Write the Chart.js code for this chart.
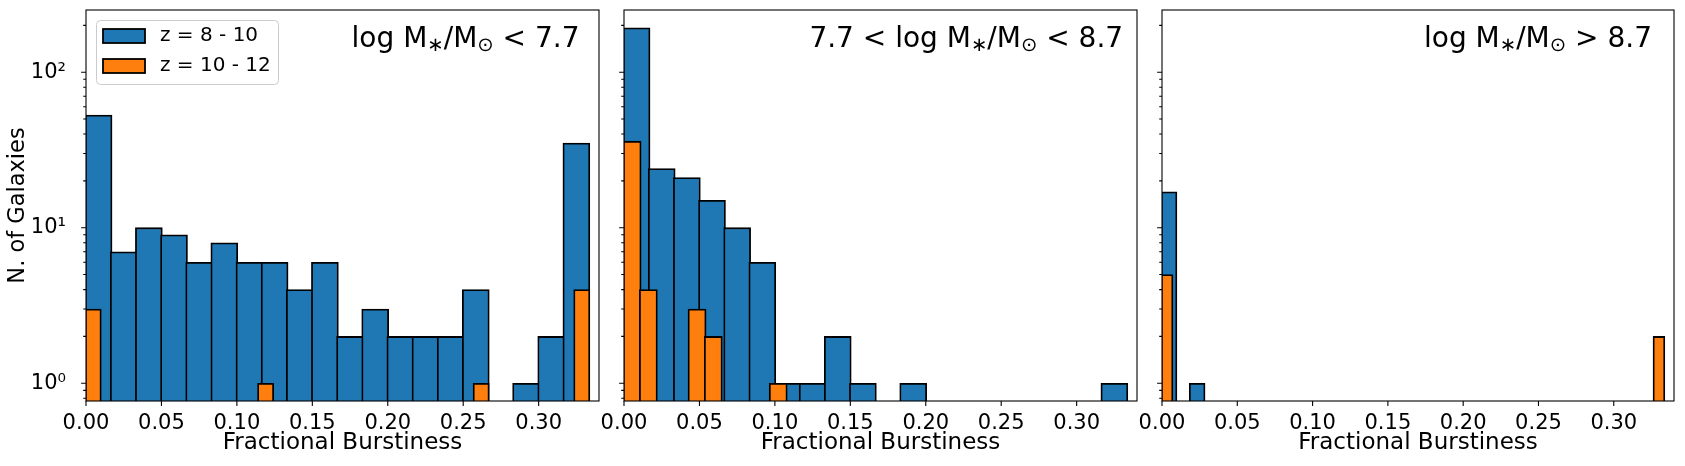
<!DOCTYPE html>
<html>
<head>
<meta charset="utf-8">
<script src="https://cdn.jsdelivr.net/npm/chart.js@4.4.0/dist/chart.umd.min.js"></script>
<style>
  body { margin: 0; background: #fff; }
  #wrap { position: relative; width: 1685px; height: 466px; background: #fff; }
  #wrap canvas { position: absolute; left: 0; top: 0; }
</style>
</head>
<body>
<div id="wrap">
  <canvas id="panel0" width="1685" height="466"></canvas>
  <canvas id="panel1" width="1685" height="466"></canvas>
  <canvas id="panel2" width="1685" height="466"></canvas>
</div>
<script>
// counts per bin, zero = empty bin
const blueLow = [53, 7, 10, 9, 6, 8, 6, 6, 4, 6, 2, 3, 2, 2, 2, 4, 0, 1, 2, 35];
const orangeLow = [3, 0, 0, 0, 0, 0, 0, 0, 0, 0, 0, 0, 1, 0, 0, 0, 0, 0, 0, 0,
                   0, 0, 0, 0, 0, 0, 0, 1, 0, 0, 0, 0, 0, 0, 4];
const blueMid = [193, 24, 21, 15, 10, 6, 1, 1, 2, 1, 0, 1, 0, 0, 0, 0, 0, 0, 0, 1];
const orangeMid = [36, 4, 0, 0, 3, 2, 0, 0, 0, 1];
const blueHigh = [17, 0, 1];
const orangeHigh = [5, 0, 0, 0, 0, 0, 0, 0, 0, 0, 0, 0, 0, 0, 0, 0, 0, 0, 0, 0, 0, 0, 0, 0, 0,
                    0, 0, 0, 0, 0, 0, 0, 0, 0, 0, 0, 0, 0, 0, 0, 0, 0, 0, 0, 0, 0, 0, 0, 0, 2];

// bin ranges [first edge, last edge] for each histogram
const blueLowRange = [0, 1 / 3];
const orangeLowRange = [0, 1 / 3];
const blueMidRange = [0, 1 / 3];
const orangeMidRange = [0, 0.1076];
const blueHighRange = [0, 0.028];
const orangeHighRange = [0, 1 / 3];

const seriesLabels = ['z = 8 - 10', 'z = 10 - 12'];
const panelTitles = ['log M_{∗}/M_{⊙} < 7.7', '7.7 < log M_{∗}/M_{⊙} < 8.7', 'log M_{∗}/M_{⊙} > 8.7'];

const xTickValues = [0, 0.05, 0.10, 0.15, 0.20, 0.25, 0.30];
const yTickValues = [0.8, 0.9, 1, 2, 3, 4, 5, 6, 7, 8, 9, 10, 20, 30, 40, 50, 60, 70, 80, 90, 100, 200];
const yMajorTicks = [1, 10, 100];
const yMajorLabels = ['10⁰', '10¹', '10²'];
const xLimits = [0, 0.34];
const yLimits = [0.7686, 251.1];

// layout / style
const W = 1685, H = 466;
const panelLeft = [86, 624, 1162];
const panelRight = [599, 1137, 1674];
const plotTop = 10, plotBottom = 401;
const titleFrac = [0.962, 0.973, 0.957];
const colors = ['#1f77b4', '#ff7f0e'];
const edgeWidth = 1.8;
const majorLen = 4.9, minorLen = 2.8;
const tickFont = 21, legendFont = 20, xLabelFont = 23, yLabelFont = 22.5, titleFont = 28;
const FONT = "'DejaVu Sans', sans-serif";

Chart.defaults.font.family = FONT;
Chart.defaults.color = '#000';

const panels = [
  { blue: blueLow, blueRange: blueLowRange, orange: orangeLow, orangeRange: orangeLowRange },
  { blue: blueMid, blueRange: blueMidRange, orange: orangeMid, orangeRange: orangeMidRange },
  { blue: blueHigh, blueRange: blueHighRange, orange: orangeHigh, orangeRange: orangeHighRange }
];

function histDataset(label, counts, range, color, order) {
  const w = (range[1] - range[0]) / counts.length;
  const pts = [];
  counts.forEach((c, k) => {
    if (c > 0) pts.push({ x: range[0] + (k + 0.5) * w, y: c });
  });
  return {
    label: label,
    data: pts,
    backgroundColor: color,
    borderColor: '#000',
    borderWidth: edgeWidth,
    borderSkipped: 'start',
    grouped: false,
    order: order,
    // bar spans exactly one bin; border is centred on the bin edges like matplotlib
    barThickness: function (ctx) {
      const s = ctx.chart.scales.x;
      return s.getPixelForValue(w) - s.getPixelForValue(0) + edgeWidth;
    }
  };
}

function drawMathText(ctx, str, xRight, baseline, size) {
  const parts = [];
  str.split(/(_\{[^}]*\})/).forEach(function (p) {
    if (!p) return;
    if (p.indexOf('_{') === 0) parts.push({ t: p.slice(2, -1), sub: true });
    else parts.push({ t: p, sub: false });
  });
  let total = 0;
  parts.forEach(function (p) {
    ctx.font = (p.sub ? size * 0.7 : size) + 'px ' + FONT;
    p.w = ctx.measureText(p.t).width;
    total += p.w;
  });
  let x = xRight - total;
  ctx.textAlign = 'left';
  ctx.textBaseline = 'alphabetic';
  parts.forEach(function (p) {
    ctx.font = (p.sub ? size * 0.7 : size) + 'px ' + FONT;
    ctx.fillText(p.t, x, baseline + (p.sub ? 4 : 0));
    x += p.w;
  });
}

const panelDecor = {
  id: 'panelDecor',
  afterDraw: function (chart, args, opts) {
    const ctx = chart.ctx;
    const a = chart.chartArea;
    const xs = chart.scales.x, ys = chart.scales.y;
    ctx.save();
    ctx.strokeStyle = '#000';
    ctx.lineWidth = 1.1;
    ctx.beginPath();
    xs.ticks.forEach(function (t) {
      const px = xs.getPixelForValue(t.value);
      ctx.moveTo(px, a.bottom);
      ctx.lineTo(px, a.bottom + majorLen);
    });
    ys.ticks.forEach(function (t) {
      const py = ys.getPixelForValue(t.value);
      const len = yMajorTicks.indexOf(t.value) >= 0 ? majorLen : minorLen;
      ctx.moveTo(a.left - len, py);
      ctx.lineTo(a.left, py);
    });
    ctx.stroke();
    ctx.strokeRect(a.left, a.top, a.right - a.left, a.bottom - a.top);

    // panel label, top right
    ctx.fillStyle = '#000';
    drawMathText(ctx, opts.title, a.left + opts.titleFrac * (a.right - a.left), 47, titleFont);

    if (opts.legend) {
      const bx = 96, by = 20, bw = 182, bh = 64;
      ctx.beginPath();
      ctx.roundRect(bx + 0.5, by + 0.5, bw, bh, 4);
      ctx.fillStyle = 'rgba(255,255,255,0.8)';
      ctx.fill();
      ctx.strokeStyle = '#cccccc';
      ctx.lineWidth = 1;
      ctx.stroke();
      chart.data.datasets.forEach(function (ds, k) {
        const py = 29 + k * 30;
        ctx.fillStyle = ds.backgroundColor;
        ctx.fillRect(103, py, 42, 14);
        ctx.strokeStyle = '#000';
        ctx.lineWidth = edgeWidth;
        ctx.strokeRect(103, py, 42, 14);
        ctx.fillStyle = '#000';
        ctx.font = legendFont + 'px ' + FONT;
        ctx.textAlign = 'left';
        ctx.textBaseline = 'middle';
        ctx.fillText(ds.label, 160, py + 7);
      });
    }
    ctx.restore();
  }
};

panels.forEach(function (p, i) {
  const yWidth = i === 0 ? 86 : 20;
  new Chart(document.getElementById('panel' + i), {
    type: 'bar',
    data: {
      datasets: [
        histDataset(seriesLabels[0], p.blue, p.blueRange, colors[0], 2),
        histDataset(seriesLabels[1], p.orange, p.orangeRange, colors[1], 1)
      ]
    },
    options: {
      responsive: false,
      animation: false,
      devicePixelRatio: 1,
      layout: {
        padding: { left: panelLeft[i] - yWidth, right: W - panelRight[i], top: plotTop, bottom: 0 }
      },
      plugins: {
        legend: { display: false },
        tooltip: { enabled: false },
        panelDecor: { title: panelTitles[i], titleFrac: titleFrac[i], legend: i === 0 }
      },
      scales: {
        x: {
          type: 'linear',
          offset: false,
          bounds: 'data',
          min: xLimits[0],
          max: xLimits[1],
          afterBuildTicks: function (s) { s.ticks = xTickValues.map(function (v) { return { value: v }; }); },
          afterFit: function (s) {
            s.height = H - plotBottom;
            s.paddingLeft = s.paddingRight = s.paddingTop = s.paddingBottom = 0;
          },
          grid: { display: false, offset: false },
          border: { display: false },
          ticks: {
            padding: 1.5,
            autoSkip: false,
            maxRotation: 0,
            font: { size: tickFont },
            color: '#000',
            callback: function (v) { return Number(v).toFixed(2); }
          },
          title: {
            display: true,
            text: 'Fractional Burstiness',
            font: { size: xLabelFont },
            color: '#000',
            padding: { top: 0, bottom: 9.5 }
          }
        },
        y: {
          type: 'logarithmic',
          bounds: 'data',
          min: yLimits[0],
          max: yLimits[1],
          afterBuildTicks: function (s) { s.ticks = yTickValues.map(function (v) { return { value: v }; }); },
          afterFit: function (s) {
            s.width = yWidth;
            s.paddingLeft = s.paddingRight = s.paddingTop = s.paddingBottom = 0;
          },
          grid: { display: false },
          border: { display: false },
          ticks: {
            display: i === 0,
            padding: 12,
            autoSkip: false,
            font: { size: tickFont },
            color: '#000',
            callback: function (v) {
              const k = yMajorTicks.indexOf(v);
              return k >= 0 ? yMajorLabels[k] : '';
            }
          },
          title: {
            display: i === 0,
            text: 'N. of Galaxies',
            font: { size: yLabelFont },
            color: '#000',
            padding: { top: 5, bottom: 0 }
          }
        }
      }
    },
    plugins: [panelDecor]
  });
});
</script>
</body>
</html>
